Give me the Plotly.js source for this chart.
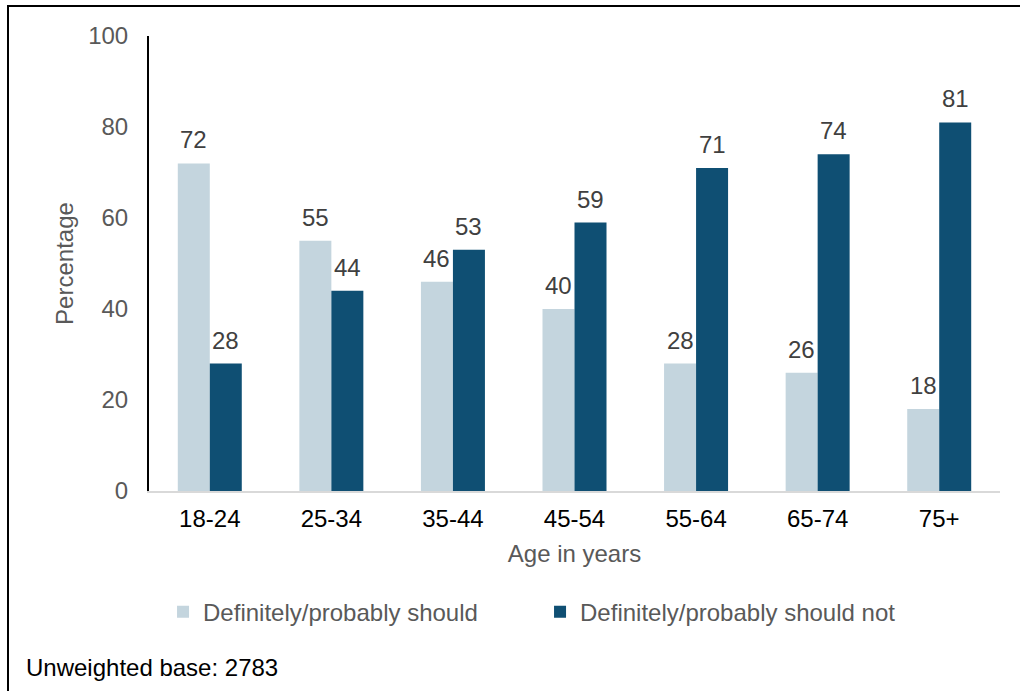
<!DOCTYPE html>
<html>
<head>
<meta charset="utf-8">
<script src="https://cdn.plot.ly/plotly-3.0.1.min.js"></script>
<style>
  html, body { margin: 0; padding: 0; background: #fff; }
  #wrap { position: relative; width: 1020px; height: 691px; overflow: hidden; }
  #chart { position: absolute; left: 0; top: 0; width: 1020px; height: 691px; }
  #frame { position: absolute; left: 7px; top: 5px; width: 1100px; height: 800px;
           border-top: 2px solid #000; border-left: 2px solid #000; pointer-events: none; }
</style>
</head>
<body>
<div id="wrap">
  <div id="chart"></div>
  <div id="frame"></div>
</div>
<script>
// Age bands and survey shares (%)
const ageGroups = ['18-24', '25-34', '35-44', '45-54', '55-64', '65-74', '75+'];
const shouldValues = [72, 55, 46, 40, 28, 26, 18];
const shouldNotValues = [28, 44, 53, 59, 71, 74, 81];
const seriesNames = ['Definitely/probably should', 'Definitely/probably should not'];
const yTicks = [0, 20, 40, 60, 80, 100];
const baseNote = 'Unweighted base: 2783';

const FONT = '"Liberation Sans", Arial, sans-serif';
const FS = 24;
const LIGHT = '#C4D5DE';
const DARK = '#0F4F73';

const traces = [
  { type: 'bar', name: seriesNames[0], x: ageGroups, y: shouldValues,
    marker: { color: LIGHT }, hoverinfo: 'x+y' },
  { type: 'bar', name: seriesNames[1], x: ageGroups, y: shouldNotValues,
    marker: { color: DARK }, hoverinfo: 'x+y' }
];

// value labels sit above each bar, shifted onto their own bar of the pair
const BAR_HALF = 16;
const annotations = [];
[shouldValues, shouldNotValues].forEach((vals, s) => {
  vals.forEach((v, i) => {
    annotations.push({
      x: ageGroups[i], y: v, xref: 'x', yref: 'y',
      text: String(v), showarrow: false,
      xshift: s === 0 ? -BAR_HALF : BAR_HALF, yshift: 8,
      yanchor: 'bottom', xanchor: 'center',
      font: { family: FONT, size: FS, color: '#404040' }
    });
  });
});
annotations.push({
  text: baseNote, xref: 'paper', yref: 'paper',
  x: -0.1469, y: -0.389, xanchor: 'left', yanchor: 'middle',
  showarrow: false, font: { family: FONT, size: FS, color: '#000' }
});

const layout = {
  width: 1020, height: 691,
  margin: { l: 149, r: 20, t: 36, b: 200 },
  paper_bgcolor: '#fff', plot_bgcolor: '#fff',
  barmode: 'group', bargap: 0.4736, bargroupgap: 0,
  font: { family: FONT, size: FS, color: '#595959' },
  xaxis: {
    type: 'category', showgrid: false, zeroline: false,
    showline: true, linecolor: '#D9D9D9', linewidth: 2,
    ticks: 'outside', ticklen: 5, tickcolor: 'rgba(0,0,0,0)',
    tickfont: { family: FONT, size: FS, color: '#000' },
    title: { text: 'Age in years', font: { family: FONT, size: FS, color: '#595959' }, standoff: 14 },
    fixedrange: true
  },
  yaxis: {
    range: [0, 100], tickvals: yTicks, showgrid: false, zeroline: false,
    showline: true, linecolor: '#000', linewidth: 2,
    ticks: 'outside', ticklen: 14, tickcolor: 'rgba(0,0,0,0)',
    tickfont: { family: FONT, size: FS, color: '#595959' },
    title: { text: 'Percentage', font: { family: FONT, size: FS, color: '#595959' }, standoff: 8 },
    fixedrange: true
  },
  showlegend: true,
  legend: {
    orientation: 'h', x: 0.0165, xanchor: 'left', y: -0.266, yanchor: 'middle',
    font: { family: FONT, size: FS, color: '#595959' },
    entrywidthmode: 'pixels', entrywidth: 332, bgcolor: 'rgba(0,0,0,0)'
  },
  annotations: annotations
};

Plotly.newPlot('chart', traces, layout, { displayModeBar: false, responsive: false });
</script>
</body>
</html>
